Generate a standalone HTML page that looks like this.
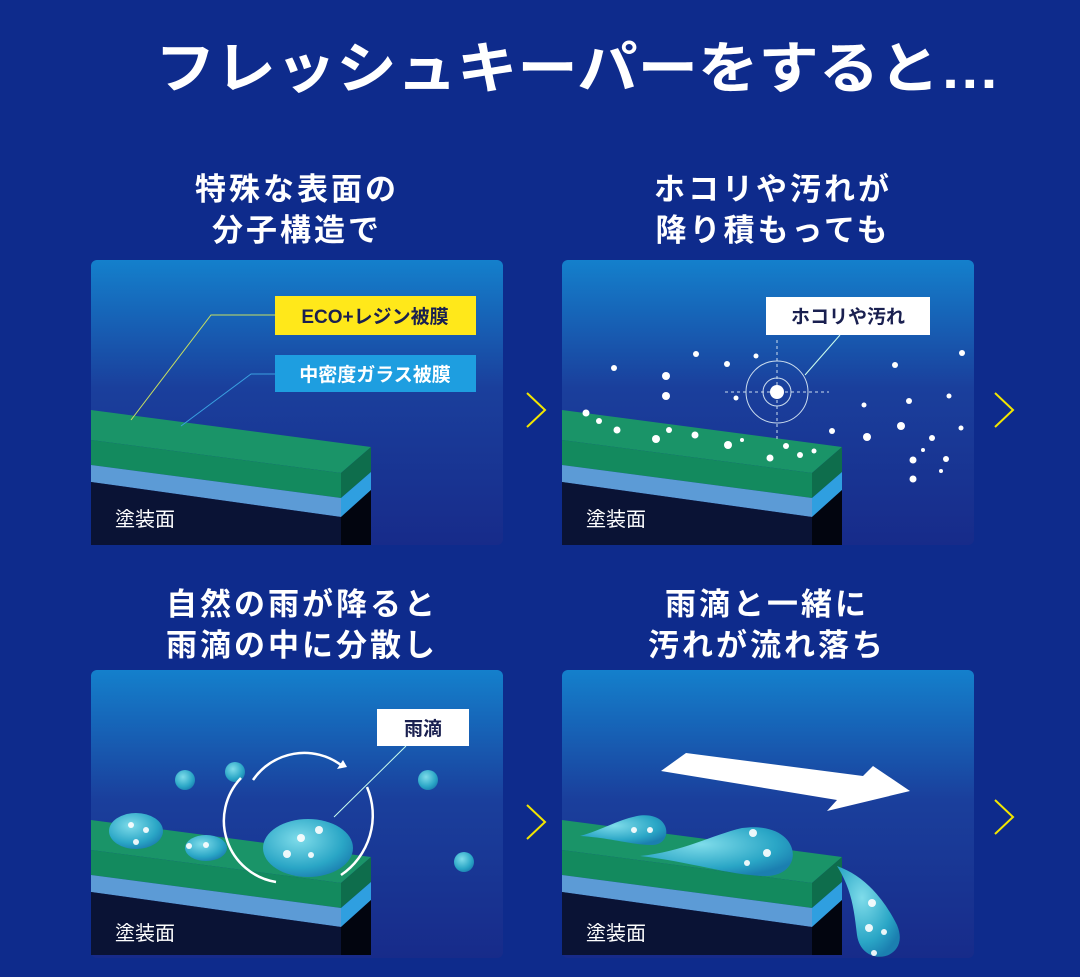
<!DOCTYPE html>
<html><head><meta charset="utf-8"><style>
html,body{margin:0;padding:0;background:#0e2b8c;}
svg{display:block}
text{font-family:"Liberation Sans","Noto Sans CJK JP",sans-serif;}
</style></head><body>
<svg width="1080" height="977" viewBox="0 0 1080 977" xmlns="http://www.w3.org/2000/svg">
<defs>
<linearGradient id="pg" x1="0" y1="0" x2="0" y2="1">
<stop offset="0" stop-color="#1480cc"/><stop offset="0.45" stop-color="#1a3f9c"/><stop offset="1" stop-color="#172b8a"/>
</linearGradient>
<radialGradient id="drop" cx="0.4" cy="0.35" r="0.7">
<stop offset="0" stop-color="#7fdcea"/><stop offset="0.7" stop-color="#2aa6c6"/><stop offset="1" stop-color="#1b7fb0"/>
</radialGradient>
<g id="slab">
<polygon points="0,150 280,187 250,213 0,180" fill="#1a9468"/>
<polygon points="0,180 250,213 250,238 0,205" fill="#138a5e"/>
<polygon points="250,213 280,187 280,212 250,238" fill="#0e6d4c"/>
<polygon points="0,205 250,238 250,257 0,222" fill="#5c9bd6"/>
<polygon points="250,238 280,212 280,230 250,257" fill="#2f9fe0"/>
<polygon points="0,222 250,257 250,285 0,285" fill="#0a1335"/>
<polygon points="250,257 280,230 280,285 250,285" fill="#02050f"/>
</g>
</defs>
<rect width="1080" height="977" fill="#0e2b8c"/>
<text x="155" y="88" font-size="56" font-weight="bold" fill="#fff" textLength="845" lengthAdjust="spacingAndGlyphs">フレッシュキーパーをすると…</text>

<g font-size="31" font-weight="bold" fill="#fff" text-anchor="middle" letter-spacing="3">
<text x="297" y="200">特殊な表面の</text><text x="297" y="241">分子構造で</text>
<text x="773" y="200">ホコリや汚れが</text><text x="773" y="241">降り積もっても</text>
<text x="302" y="615">自然の雨が降ると</text><text x="302" y="656">雨滴の中に分散し</text>
<text x="767" y="615">雨滴と一緒に</text><text x="767" y="656">汚れが流れ落ち</text>
</g>

<!-- panel 1 -->
<g transform="translate(91,260)">
<rect width="412" height="285" rx="6" fill="url(#pg)"/>
<use href="#slab"/>
<polyline points="40,160 120,55 184,55" fill="none" stroke="#c8e060" stroke-width="1"/>
<polyline points="90,166 160,114 184,114" fill="none" stroke="#3aa0e0" stroke-width="1"/>
<rect x="184" y="36" width="201" height="39" fill="#ffe81a"/>
<text x="284" y="63" text-anchor="middle" font-size="19" fill="#1a2050" font-weight="bold">ECO+レジン被膜</text>
<rect x="184" y="95" width="201" height="37" fill="#1e9ee0"/>
<text x="284" y="121" text-anchor="middle" font-size="19" fill="#fff" font-weight="bold">中密度ガラス被膜</text>
<text x="24" y="266" font-size="20" fill="#fff">塗装面</text>
</g>

<!-- panel 2 -->
<g transform="translate(562,260)">
<rect width="412" height="285" rx="6" fill="url(#pg)"/>
<use href="#slab"/>
<rect x="204" y="37" width="164" height="38" fill="#fff"/>
<text x="286" y="63" text-anchor="middle" font-size="19" fill="#1a2050" font-weight="bold">ホコリや汚れ</text>
<line x1="243" y1="115" x2="278" y2="75" stroke="#cfe" stroke-width="1"/>
<circle cx="215" cy="132" r="31" fill="none" stroke="#cde" stroke-width="1"/>
<circle cx="215" cy="132" r="14" fill="none" stroke="#cde" stroke-width="1"/>
<line x1="163" y1="132" x2="267" y2="132" stroke="#cde" stroke-width="1" stroke-dasharray="3 3"/>
<line x1="215" y1="80" x2="215" y2="180" stroke="#cde" stroke-width="1" stroke-dasharray="3 3"/>
<circle cx="215" cy="132" r="7" fill="#fff"/>
<g fill="#fff">
<circle cx="52" cy="108" r="3"/><circle cx="104" cy="116" r="4"/><circle cx="104" cy="136" r="4"/><circle cx="134" cy="94" r="3"/><circle cx="165" cy="104" r="3"/><circle cx="194" cy="96" r="2.5"/><circle cx="174" cy="138" r="2.5"/>
<circle cx="24" cy="153" r="3.5"/><circle cx="37" cy="161" r="3"/><circle cx="55" cy="170" r="3.5"/><circle cx="94" cy="179" r="4"/><circle cx="107" cy="170" r="3"/><circle cx="133" cy="175" r="3.5"/><circle cx="166" cy="185" r="4"/><circle cx="180" cy="180" r="2"/><circle cx="224" cy="186" r="3"/><circle cx="208" cy="198" r="3.5"/><circle cx="238" cy="195" r="3"/><circle cx="252" cy="191" r="2.5"/>
<circle cx="270" cy="171" r="3"/><circle cx="305" cy="177" r="4"/><circle cx="302" cy="145" r="2.5"/><circle cx="333" cy="105" r="3"/><circle cx="347" cy="141" r="3"/><circle cx="339" cy="166" r="4"/><circle cx="370" cy="178" r="3"/><circle cx="387" cy="136" r="2.5"/><circle cx="399" cy="168" r="2.5"/><circle cx="400" cy="93" r="3"/><circle cx="351" cy="200" r="3.5"/><circle cx="384" cy="199" r="3"/><circle cx="351" cy="219" r="3.5"/><circle cx="379" cy="211" r="2"/><circle cx="361" cy="190" r="2"/>
</g>
<text x="24" y="266" font-size="20" fill="#fff">塗装面</text>
</g>

<!-- panel 3 -->
<g transform="translate(91,670)">
<rect width="412" height="288" rx="6" fill="url(#pg)"/>
<use href="#slab"/>
<rect x="286" y="39" width="92" height="37" fill="#fff"/>
<text x="332" y="65" text-anchor="middle" font-size="19" fill="#1a2050" font-weight="bold">雨滴</text>
<line x1="243" y1="147" x2="315" y2="76" stroke="#cfe" stroke-width="1"/>
<g fill="url(#drop)">
<circle cx="94" cy="110" r="10"/><circle cx="144" cy="102" r="10"/><circle cx="337" cy="110" r="10"/><circle cx="373" cy="192" r="10"/>
<ellipse cx="45" cy="161" rx="27" ry="18"/><ellipse cx="115" cy="178" rx="21" ry="13"/><ellipse cx="217" cy="178" rx="45" ry="29"/>
</g>
<g fill="#fff" opacity="0.9"><circle cx="40" cy="155" r="3"/><circle cx="55" cy="160" r="3"/><circle cx="45" cy="172" r="3"/><circle cx="210" cy="168" r="4"/><circle cx="228" cy="160" r="4"/><circle cx="196" cy="184" r="4"/><circle cx="220" cy="185" r="3"/><circle cx="115" cy="175" r="3"/><circle cx="98" cy="176" r="3"/></g>
<path d="M162,110 A62,62 0 0 1 250,95" fill="none" stroke="#fff" stroke-width="2.5"/>
<polygon points="252,90 256,97 246,99" fill="#fff"/>
<path d="M185,212 A62,62 0 0 1 150,108" fill="none" stroke="#fff" stroke-width="2.5"/>
<path d="M276,117 A72,72 0 0 1 250,205" fill="none" stroke="#fff" stroke-width="2.5"/>
<text x="24" y="270" font-size="20" fill="#fff">塗装面</text>
</g>

<!-- panel 4 -->
<g transform="translate(562,670)">
<rect width="412" height="288" rx="6" fill="url(#pg)"/>
<use href="#slab"/>
<polygon points="124,83 301,106 311,96 348,121 265,141 275,130 99,101" fill="#fff"/>
<path d="M18,166 C40,160 55,150 75,146 C110,140 112,175 90,175 C70,175 50,168 18,166Z" fill="url(#drop)"/>
<path d="M78,186 C120,182 150,165 180,158 C240,150 245,205 205,206 C170,206 130,192 78,186Z" fill="url(#drop)"/>
<path d="M275,196 C300,205 320,225 335,255 C350,290 300,300 295,265 C292,240 290,220 275,196Z" fill="url(#drop)"/>
<g fill="#fff" opacity="0.9"><circle cx="72" cy="160" r="3"/><circle cx="88" cy="160" r="3"/><circle cx="191" cy="163" r="4"/><circle cx="205" cy="183" r="4"/><circle cx="185" cy="193" r="3"/><circle cx="310" cy="233" r="4"/><circle cx="307" cy="258" r="4"/><circle cx="322" cy="262" r="3"/><circle cx="312" cy="283" r="3"/></g>
<text x="24" y="270" font-size="20" fill="#fff">塗装面</text>
</g>

<g fill="none" stroke="#f2e600" stroke-width="2">
<polyline points="527,393 545,410 527,427"/>
<polyline points="995,393 1013,410 995,427"/>
<polyline points="527,805 545,822 527,839"/>
<polyline points="995,800 1013,817 995,834"/>
</g>
</svg>
</body></html>
